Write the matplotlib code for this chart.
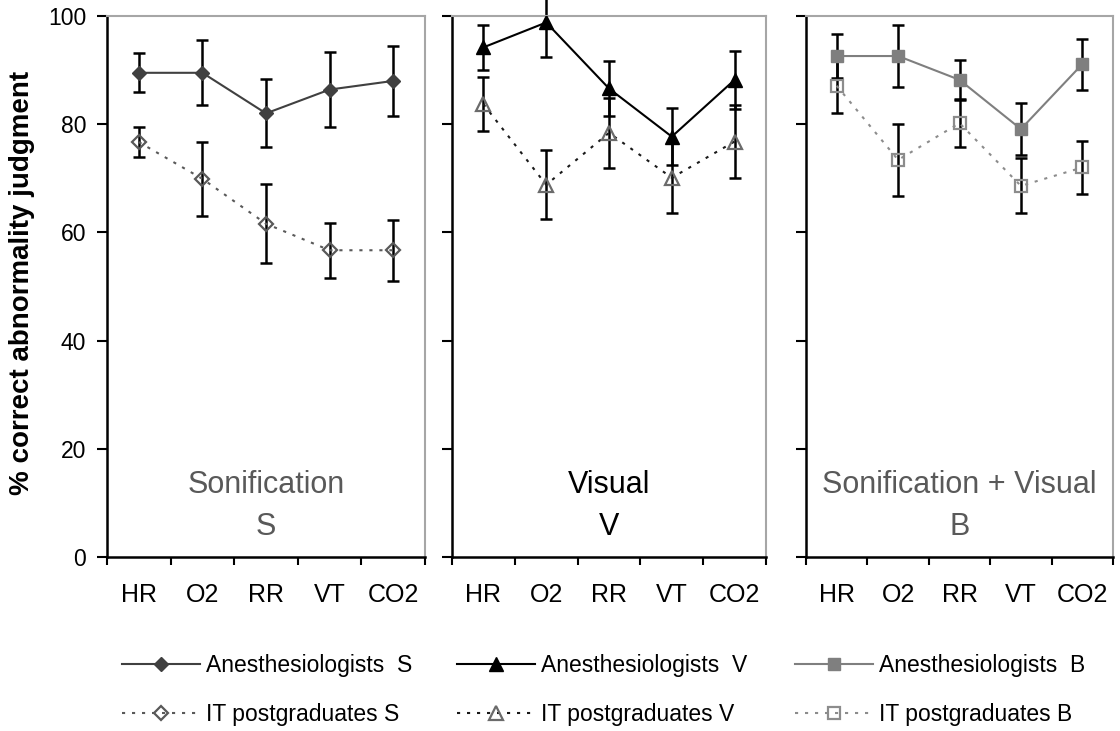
import numpy as np
import matplotlib
matplotlib.use("Agg")
import matplotlib.pyplot as plt

plt.rcParams['font.family'] = ['Liberation Sans', 'DejaVu Sans']

categories = ["HR", "O2", "RR", "VT", "CO2"]

anes_S = [89.5, 89.5, 82.0, 86.4, 88.0]
anes_S_err = [3.6, 6.0, 6.3, 7.0, 6.4]
it_S = [76.7, 69.9, 61.6, 56.7, 56.7]
it_S_err = [2.7, 6.9, 7.3, 5.1, 5.6]

anes_V = [94.2, 98.8, 86.6, 77.7, 88.2]
anes_V_err = [4.2, 6.3, 5.0, 5.3, 5.3]
it_V = [83.7, 68.8, 78.4, 70.1, 76.8]
it_V_err = [5.0, 6.4, 6.5, 6.5, 6.7]

anes_B = [92.6, 92.6, 88.2, 79.1, 91.1]
anes_B_err = [4.1, 5.7, 3.7, 4.8, 4.7]
it_B = [87.1, 73.4, 80.2, 68.6, 72.0]
it_B_err = [5.1, 6.6, 4.4, 5.1, 4.9]

panel_titles = [("Sonification", "S"), ("Visual", "V"), ("Sonification + Visual", "B")]
legend_anes = ["Anesthesiologists  S", "Anesthesiologists  V", "Anesthesiologists  B"]
legend_it = ["IT postgraduates S", "IT postgraduates V", "IT postgraduates B"]

W, H = 1120, 731
fig = plt.figure(figsize=(W / 100, H / 100), dpi=100)

panels_px = [(107, 318), (452, 314), (806, 307)]
bottom = 1 - 557 / H
height = 541 / H

styles = [
    dict(ac='#404040', am='D', ams=7.5, ic='#595959', iec='#595959', im='D', ims=7.5, tc='#595959'),
    dict(ac='#000000', am='^', ams=10, ic='#1a1a1a', iec='#6b6b6b', im='^', ims=10, tc='#000000'),
    dict(ac='#7f7f7f', am='s', ams=8.5, ic='#8c8c8c', iec='#8c8c8c', im='s', ims=8.5, tc='#595959'),
]
data = [(anes_S, anes_S_err, it_S, it_S_err),
        (anes_V, anes_V_err, it_V, it_V_err),
        (anes_B, anes_B_err, it_B, it_B_err)]

x = np.arange(len(categories))
dotted = (0, (1.5, 3.3))
legend_x = [122, 457, 795]

for i, ((lx, w), st, (a, ae, it, ite)) in enumerate(zip(panels_px, styles, data)):
    ax = fig.add_axes([lx / W, bottom, w / W, height])
    ax.set_xlim(-0.5, 4.5)
    ax.set_ylim(0, 100)

    for yy, ee in ((a, ae), (it, ite)):
        eb = ax.errorbar(x, yy, yerr=ee, fmt='none', ecolor='black', elinewidth=1.8,
                         capsize=4.5, capthick=1.8, zorder=2)
        for child in eb.get_children():
            child.set_clip_on(False)

    la, = ax.plot(x, a, color=st['ac'], lw=1.5, marker=st['am'], ms=st['ams'],
                  mfc=st['ac'], mec=st['ac'], zorder=3, label=legend_anes[i])
    li, = ax.plot(x, it, color=st['ic'], lw=1.5, linestyle=dotted, marker=st['im'],
                  ms=st['ims'], mfc='none', mec=st['iec'], mew=1.6, zorder=3,
                  label=legend_it[i])

    ax.set_xticks(np.arange(-0.5, 5.0, 1.0))
    ax.set_xticklabels([])
    ax.set_xticks(x, minor=True)
    ax.set_xticklabels(categories, minor=True, fontsize=18)
    ax.tick_params(axis='x', which='major', direction='out', length=6, width=1.5, color='black')
    ax.tick_params(axis='x', which='minor', length=0, pad=19)
    ax.set_yticks(np.arange(0, 101, 20))
    ax.tick_params(axis='y', direction='out', length=7, width=1.5, color='black',
                   labelsize=16.5, pad=8, labelleft=(i == 0))
    for s in ('left', 'bottom'):
        ax.spines[s].set_color('black')
        ax.spines[s].set_linewidth(1.8)
    for s in ('top', 'right'):
        ax.spines[s].set_color('#a6a6a6')
        ax.spines[s].set_linewidth(1.5)

    t1, t2 = panel_titles[i]
    ax.text(0.5, 0.118, t1, transform=ax.transAxes, ha='center', va='baseline',
            fontsize=22, color=st['tc'])
    ax.text(0.5, 0.041, t2, transform=ax.transAxes, ha='center', va='baseline',
            fontsize=22, color=st['tc'])

    fig.legend(handles=[la, li], loc='upper left',
               bbox_to_anchor=(legend_x[i] / W, 1 - 654 / H),
               frameon=False, fontsize=16.5, handlelength=3.4, handletextpad=0.25,
               labelspacing=1.13, borderpad=0, borderaxespad=0, numpoints=1)

fig.text(22 / W, 1 - 283 / H, "% correct abnormality judgment", rotation=90,
         ha='center', va='center', fontsize=20, fontweight='bold')

fig.savefig("out.png", dpi=100)
